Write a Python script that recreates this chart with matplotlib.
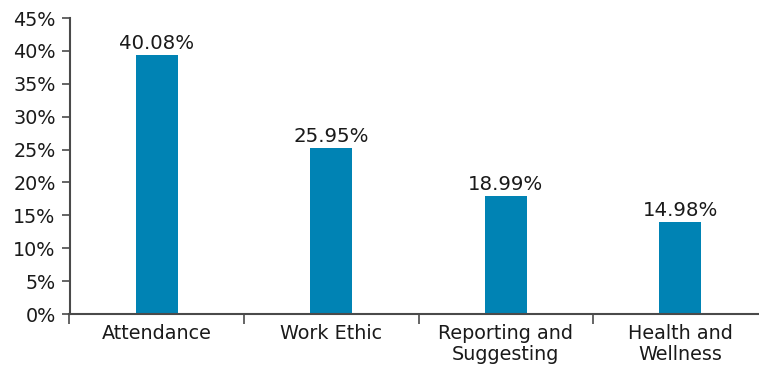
import matplotlib
matplotlib.use("Agg")
import matplotlib.pyplot as plt
from matplotlib.ticker import FixedLocator, PercentFormatter

categories = ["Attendance", "Work Ethic", "Reporting and\nSuggesting", "Health and\nWellness"]
bar_heights = [39.3, 25.2, 17.9, 14.0]
value_labels = ["40.08%", "25.95%", "18.99%", "14.98%"]
y_ticks = [0, 5, 10, 15, 20, 25, 30, 35, 40, 45]

bar_color = "#0083b4"
text_color = "#1a1a1a"
axis_color = "#4a4a4a"

plt.rcParams['font.family'] = ['DejaVu Sans']

W, H = 759, 367
fig = plt.figure(figsize=(W / 100, H / 100), dpi=100)
left_px, right_px, bottom_px, top_px = 69.5, 759, 314, 18
ax = fig.add_axes([left_px / W, 1 - bottom_px / H, (right_px - left_px) / W, (bottom_px - top_px) / H])

x = list(range(len(categories)))
bars = ax.bar(x, bar_heights, width=0.24, color=bar_color, zorder=2)
for b, lab in zip(bars, value_labels):
    ax.annotate(lab, (b.get_x() + b.get_width() / 2, b.get_height()),
                xytext=(0, 1.5), textcoords="offset points",
                ha="center", va="bottom", fontsize=14.2, color=text_color)

cat_w = 174.5
ax.set_xlim(-0.5, -0.5 + (right_px - left_px) / cat_w)
ax.set_ylim(0, 45)
ax.set_yticks(y_ticks)
ax.yaxis.set_major_formatter(PercentFormatter(decimals=0))
ax.set_xticks(x)
ax.set_xticklabels(categories, fontsize=13.8, color=text_color, linespacing=1.15)
ax.xaxis.set_minor_locator(FixedLocator([-0.5, 0.5, 1.5, 2.5]))
ax.tick_params(axis="x", which="major", length=0, pad=7)
ax.tick_params(axis="x", which="minor", length=7, width=1.2, color=axis_color)
ax.tick_params(axis="y", length=6, width=1.2, color=axis_color, pad=4,
               labelsize=13.8, labelcolor=text_color)

for s in ["top", "right"]:
    ax.spines[s].set_visible(False)
for s in ["left", "bottom"]:
    ax.spines[s].set_color(axis_color)
    ax.spines[s].set_linewidth(1.5)

fig.savefig("out.png", dpi=100)
